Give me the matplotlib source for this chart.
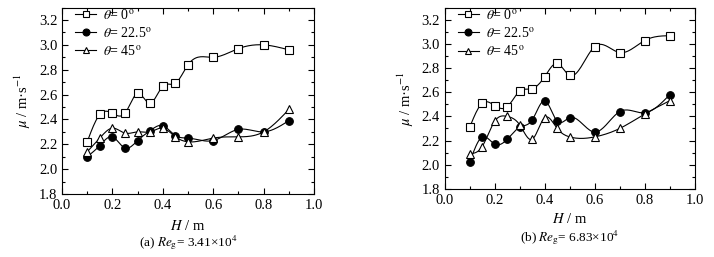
import numpy as np
import matplotlib
matplotlib.use("Agg")
import matplotlib.pyplot as plt
from matplotlib.ticker import MultipleLocator

plt.rcParams["font.family"] = ["Liberation Serif", "DejaVu Serif"]
plt.rcParams["mathtext.fontset"] = "stix"

H = [0.1, 0.15, 0.2, 0.25, 0.3, 0.35, 0.4, 0.45, 0.5, 0.6, 0.7, 0.8, 0.9]

# (a) Re_g = 3.41e4
a_0 = [2.22, 2.44, 2.45, 2.45, 2.61, 2.53, 2.67, 2.69, 2.84, 2.90, 2.97, 3.00, 2.96]
a_225 = [2.10, 2.19, 2.26, 2.17, 2.23, 2.31, 2.35, 2.27, 2.25, 2.23, 2.32, 2.30, 2.39]
a_45 = [2.14, 2.25, 2.33, 2.29, 2.30, 2.30, 2.33, 2.26, 2.22, 2.25, 2.26, 2.30, 2.48]

# (b) Re_g = 6.83e4
b_0 = [2.31, 2.51, 2.49, 2.48, 2.61, 2.63, 2.73, 2.84, 2.74, 2.98, 2.93, 3.03, 3.07]
b_225 = [2.02, 2.23, 2.17, 2.21, 2.31, 2.37, 2.53, 2.36, 2.39, 2.27, 2.44, 2.43, 2.58]
b_45 = [2.09, 2.15, 2.36, 2.40, 2.33, 2.21, 2.39, 2.30, 2.23, 2.23, 2.30, 2.42, 2.53]

labels = [r"$\theta$= 0$^{\rm o}$", r"$\theta$= 22.5$^{\rm o}$", r"$\theta$= 45$^{\rm o}$"]
captions = [r"(a) $Re_{\rm g}$= 3.41×10$^4$", r"(b) $Re_{\rm g}$= 6.83×10$^4$"]


def smooth(x, y, lam):
    # penalised fit on a fine grid (Whittaker style smoother)
    x = np.asarray(x)
    y = np.asarray(y)
    grid = np.round(np.arange(0.1, 0.9001, 0.005), 4)
    n = len(grid)
    idx = np.array([np.argmin(np.abs(grid - xi)) for xi in x])
    W = np.zeros((n, n))
    W[idx, idx] = 1.0
    D = np.diff(np.eye(n), n=2, axis=0)
    z = np.zeros(n)
    z[idx] = y
    f = np.linalg.solve(W + lam * D.T @ D, z)
    return grid, f


def draw(ax, series, lam, xlab_y):
    styles = [dict(marker="s", mfc="white"), dict(marker="o", mfc="black"),
              dict(marker="^", mfc="white")]
    for y, st, lab, l in zip(series, styles, labels, lam):
        gx, gy = smooth(H, y, l)
        ax.plot(gx, gy, color="black", lw=0.8)
        ax.plot(H, y, ls="none", mec="black", ms=5.5, mew=0.8, **st)
        ax.plot([], [], color="black", lw=0.8, ms=5, mew=0.8, mec="black",
                label=lab, **st)
    ax.set_xlim(0, 1.0)
    ax.set_ylim(1.8, 3.3)
    ax.xaxis.set_minor_locator(MultipleLocator(0.1))
    ax.yaxis.set_minor_locator(MultipleLocator(0.1))
    ax.set_xticks(np.arange(0, 1.01, 0.2))
    ax.set_xticklabels([f"{v:.1f}" for v in np.arange(0, 1.01, 0.2)])
    ax.set_yticks(np.arange(1.8, 3.21, 0.2))
    ax.set_yticklabels([f"{v:.1f}" for v in np.arange(1.8, 3.21, 0.2)])
    ax.tick_params(which="both", direction="in", top=True, right=True,
                   labelsize=10.5, width=0.8)
    ax.tick_params(which="major", length=4)
    ax.tick_params(which="minor", length=2)
    for s in ax.spines.values():
        s.set_linewidth(0.8)
    ax.set_xlabel(r"$H$ / m", fontsize=10.5)
    ax.xaxis.set_label_coords(0.5, xlab_y)
    ax.set_ylabel(r"$\mu$ / m·s$^{-1}$", fontsize=10.5, labelpad=4)
    ax.legend(loc="upper left", bbox_to_anchor=(0.03, 1.03), frameon=False,
              fontsize=10, handlelength=1.5, handletextpad=0.5,
              labelspacing=0.3, borderaxespad=0.0)


fig = plt.figure(figsize=(7.14, 2.57), dpi=100)
ax1 = fig.add_axes([62 / 714, 63 / 257, 252 / 714, 186.4 / 257])
ax2 = fig.add_axes([444.7 / 714, 68.3 / 257, 250 / 714, 180.7 / 257])

draw(ax1, [a_0, a_225, a_45], [2e-6, 2e-6, 2e-6], -0.134)
draw(ax2, [b_0, b_225, b_45], [2e-5, 4e-5, 3e-5], -0.129)

fig.text(188 / 714, 1 - 243 / 257, captions[0], ha="center", va="center",
         fontsize=9.5)
fig.text(570 / 714, 1 - 238 / 257, captions[1], ha="center", va="center",
         fontsize=9.5)

fig.savefig("out.png", dpi=100)
